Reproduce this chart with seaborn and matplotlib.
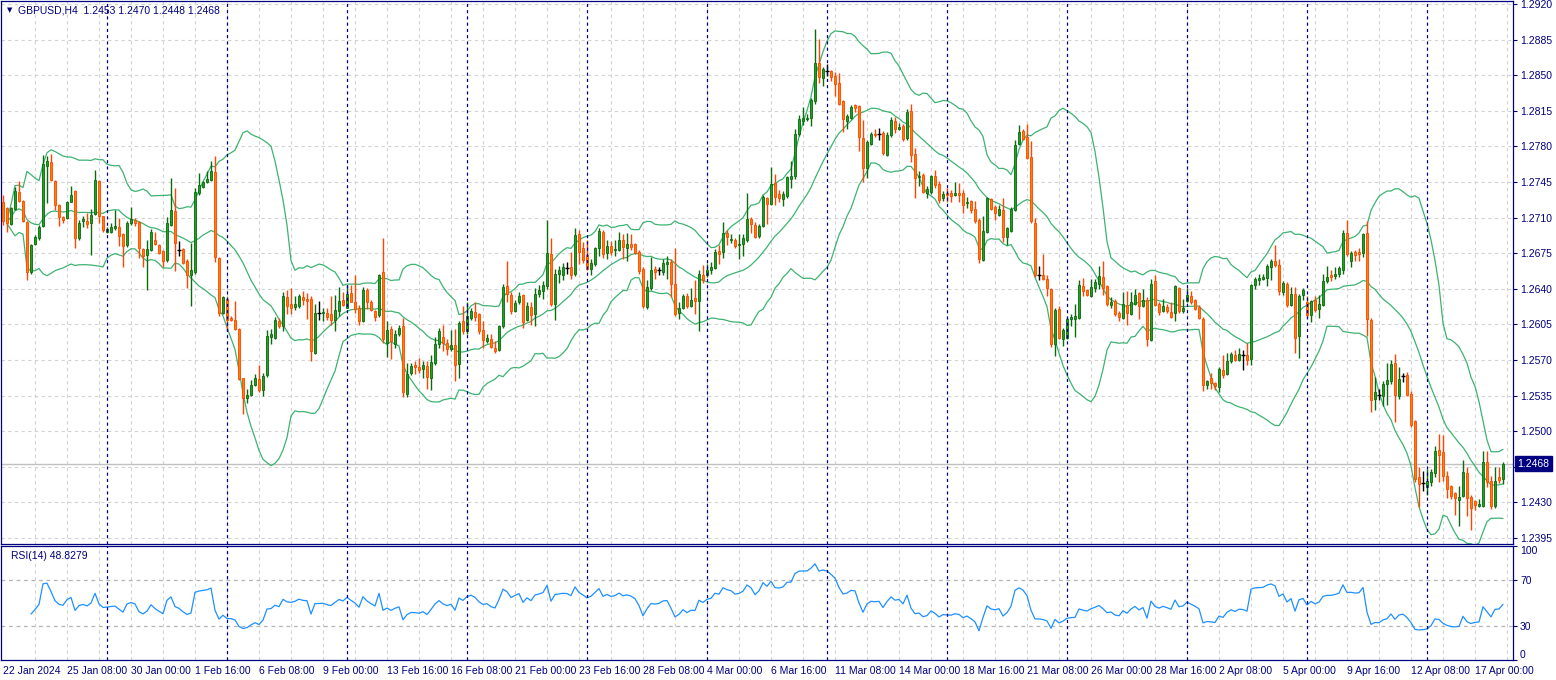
import numpy as np
import pandas as pd
import matplotlib
matplotlib.use('Agg')
import matplotlib.pyplot as plt
import seaborn as sns

# GBPUSD H4 bars (first bar 22 Jan 2024 16:00)
symbol = 'GBPUSD,H4'
rsi_label = 'RSI(14) 48.8279'

opens = [
    1.2725, 1.2719, 1.2704, 1.2718, 1.2735, 1.2726, 1.2706, 1.2656, 1.2684, 1.2690,
    1.2702, 1.2761, 1.2765, 1.2746, 1.2722, 1.2711, 1.2710, 1.2725, 1.2736, 1.2690,
    1.2707, 1.2707, 1.2705, 1.2714, 1.2746, 1.2712, 1.2696, 1.2696, 1.2700, 1.2701,
    1.2694, 1.2683, 1.2705, 1.2708, 1.2706, 1.2679, 1.2673, 1.2678, 1.2688, 1.2683,
    1.2677, 1.2668, 1.2703, 1.2716, 1.2678, 1.2679, 1.2667, 1.2654, 1.2656, 1.2734,
    1.2740, 1.2745, 1.2747, 1.2755, 1.2670, 1.2616, 1.2630, 1.2611, 1.2609, 1.2600,
    1.2552, 1.2533, 1.2536, 1.2545, 1.2551, 1.2540, 1.2555, 1.2593, 1.2592, 1.2608,
    1.2603, 1.2632, 1.2625, 1.2622, 1.2623, 1.2632, 1.2630, 1.2630, 1.2577, 1.2616,
    1.2616, 1.2616, 1.2615, 1.2609, 1.2618, 1.2629, 1.2621, 1.2636, 1.2627, 1.2621,
    1.2608, 1.2639, 1.2627, 1.2618, 1.2614, 1.2656, 1.2587, 1.2600, 1.2586, 1.2596,
    1.2603, 1.2537, 1.2557, 1.2565, 1.2563, 1.2561, 1.2564, 1.2552, 1.2567, 1.2586,
    1.2593, 1.2587, 1.2581, 1.2585, 1.2566, 1.2608, 1.2598, 1.2611, 1.2617, 1.2615,
    1.2599, 1.2589, 1.2591, 1.2582, 1.2580, 1.2603, 1.2643, 1.2634, 1.2618, 1.2627,
    1.2634, 1.2609, 1.2622, 1.2615, 1.2635, 1.2638, 1.2643, 1.2674, 1.2625, 1.2655,
    1.2654, 1.2660, 1.2661, 1.2655, 1.2694, 1.2680, 1.2673, 1.2659, 1.2664, 1.2680,
    1.2696, 1.2675, 1.2682, 1.2678, 1.2678, 1.2688, 1.2680, 1.2684, 1.2684, 1.2676,
    1.2659, 1.2622, 1.2641, 1.2659, 1.2658, 1.2656, 1.2664, 1.2666, 1.2645, 1.2616,
    1.2621, 1.2633, 1.2623, 1.2631, 1.2628, 1.2654, 1.2654, 1.2658, 1.2660, 1.2677,
    1.2676, 1.2695, 1.2688, 1.2688, 1.2683, 1.2684, 1.2688, 1.2709, 1.2703, 1.2692,
    1.2702, 1.2729, 1.2723, 1.2744, 1.2733, 1.2728, 1.2731, 1.2748, 1.2751, 1.2792,
    1.2805, 1.2807, 1.2808, 1.2825, 1.2862, 1.2847, 1.2854, 1.2854, 1.2849, 1.2842,
    1.2825, 1.2805, 1.2808, 1.2821, 1.2820, 1.2788, 1.2759, 1.2782, 1.2792, 1.2792,
    1.2793, 1.2772, 1.2791, 1.2805, 1.2797, 1.2800, 1.2788, 1.2815, 1.2773, 1.2750,
    1.2752, 1.2734, 1.2735, 1.2751, 1.2743, 1.2729, 1.2734, 1.2734, 1.2732, 1.2734,
    1.2734, 1.2724, 1.2726, 1.2718, 1.2708, 1.2668, 1.2696, 1.2728, 1.2720, 1.2713,
    1.2717, 1.2691, 1.2697, 1.2717, 1.2782, 1.2795, 1.2789, 1.2770, 1.2705, 1.2654,
    1.2654, 1.2650, 1.2640, 1.2586, 1.2620, 1.2591, 1.2592, 1.2610, 1.2610, 1.2611,
    1.2643, 1.2639, 1.2633, 1.2641, 1.2645, 1.2652, 1.2643, 1.2624, 1.2628, 1.2616,
    1.2611, 1.2624, 1.2615, 1.2625, 1.2636, 1.2623, 1.2629, 1.2590, 1.2648, 1.2625,
    1.2618, 1.2622, 1.2617, 1.2616, 1.2641, 1.2618, 1.2628, 1.2633, 1.2629, 1.2622,
    1.2610, 1.2545, 1.2552, 1.2547, 1.2543, 1.2560, 1.2556, 1.2569, 1.2575, 1.2570,
    1.2575, 1.2575, 1.2571, 1.2644, 1.2649, 1.2650, 1.2651, 1.2661, 1.2667, 1.2663,
    1.2637, 1.2645, 1.2624, 1.2635, 1.2594, 1.2634, 1.2627, 1.2614, 1.2629, 1.2620,
    1.2624, 1.2648, 1.2654, 1.2653, 1.2655, 1.2658, 1.2695, 1.2667, 1.2676, 1.2676,
    1.2675, 1.2695, 1.2609, 1.2532, 1.2536, 1.2535, 1.2546, 1.2549, 1.2567, 1.2535,
    1.2554, 1.2555, 1.2537, 1.2510, 1.2455, 1.2449, 1.2445, 1.2450, 1.2459, 1.2481,
    1.2479, 1.2456, 1.2446, 1.2439, 1.2432, 1.2436, 1.2459, 1.2435, 1.2431, 1.2426,
    1.2426, 1.2470, 1.2451, 1.2426, 1.2455, 1.2453,
]

highs = [
    1.2732, 1.2720, 1.2720, 1.2740, 1.2746, 1.2727, 1.2707, 1.2684, 1.2693, 1.2703,
    1.2772, 1.2771, 1.2773, 1.2747, 1.2723, 1.2712, 1.2726, 1.2741, 1.2737, 1.2708,
    1.2712, 1.2715, 1.2718, 1.2757, 1.2747, 1.2712, 1.2701, 1.2705, 1.2717, 1.2710,
    1.2695, 1.2707, 1.2720, 1.2710, 1.2707, 1.2680, 1.2688, 1.2699, 1.2696, 1.2684,
    1.2678, 1.2711, 1.2749, 1.2739, 1.2687, 1.2680, 1.2669, 1.2685, 1.2739, 1.2754,
    1.2746, 1.2756, 1.2766, 1.2771, 1.2671, 1.2633, 1.2632, 1.2613, 1.2628, 1.2601,
    1.2552, 1.2541, 1.2550, 1.2556, 1.2565, 1.2557, 1.2599, 1.2600, 1.2612, 1.2611,
    1.2637, 1.2639, 1.2641, 1.2633, 1.2635, 1.2638, 1.2636, 1.2633, 1.2625, 1.2628,
    1.2621, 1.2621, 1.2633, 1.2634, 1.2642, 1.2637, 1.2644, 1.2644, 1.2654, 1.2624,
    1.2642, 1.2641, 1.2629, 1.2619, 1.2655, 1.2690, 1.2608, 1.2603, 1.2599, 1.2604,
    1.2611, 1.2567, 1.2567, 1.2569, 1.2572, 1.2569, 1.2569, 1.2575, 1.2593, 1.2601,
    1.2604, 1.2591, 1.2599, 1.2600, 1.2608, 1.2623, 1.2627, 1.2621, 1.2627, 1.2616,
    1.2608, 1.2596, 1.2596, 1.2589, 1.2604, 1.2645, 1.2667, 1.2637, 1.2629, 1.2637,
    1.2635, 1.2627, 1.2627, 1.2641, 1.2644, 1.2648, 1.2708, 1.2690, 1.2659, 1.2662,
    1.2665, 1.2666, 1.2676, 1.2700, 1.2698, 1.2686, 1.2688, 1.2669, 1.2681, 1.2700,
    1.2698, 1.2688, 1.2687, 1.2688, 1.2696, 1.2694, 1.2695, 1.2694, 1.2685, 1.2678,
    1.2661, 1.2649, 1.2671, 1.2662, 1.2661, 1.2669, 1.2672, 1.2669, 1.2680, 1.2627,
    1.2635, 1.2636, 1.2641, 1.2649, 1.2658, 1.2663, 1.2664, 1.2666, 1.2679, 1.2683,
    1.2706, 1.2698, 1.2694, 1.2690, 1.2694, 1.2694, 1.2734, 1.2711, 1.2706, 1.2704,
    1.2732, 1.2730, 1.2760, 1.2753, 1.2737, 1.2736, 1.2751, 1.2766, 1.2797, 1.2811,
    1.2819, 1.2812, 1.2828, 1.2895, 1.2886, 1.2858, 1.2861, 1.2855, 1.2853, 1.2852,
    1.2826, 1.2812, 1.2821, 1.2822, 1.2821, 1.2806, 1.2786, 1.2794, 1.2797, 1.2798,
    1.2795, 1.2794, 1.2809, 1.2809, 1.2803, 1.2802, 1.2817, 1.2822, 1.2778, 1.2756,
    1.2754, 1.2741, 1.2752, 1.2757, 1.2746, 1.2736, 1.2739, 1.2737, 1.2745, 1.2744,
    1.2737, 1.2730, 1.2727, 1.2726, 1.2710, 1.2712, 1.2730, 1.2729, 1.2722, 1.2722,
    1.2729, 1.2701, 1.2720, 1.2786, 1.2801, 1.2797, 1.2802, 1.2785, 1.2710, 1.2662,
    1.2674, 1.2654, 1.2641, 1.2621, 1.2623, 1.2601, 1.2612, 1.2615, 1.2625, 1.2649,
    1.2651, 1.2640, 1.2650, 1.2650, 1.2662, 1.2667, 1.2644, 1.2632, 1.2630, 1.2618,
    1.2637, 1.2638, 1.2637, 1.2640, 1.2637, 1.2640, 1.2632, 1.2650, 1.2654, 1.2627,
    1.2630, 1.2625, 1.2627, 1.2644, 1.2642, 1.2630, 1.2641, 1.2638, 1.2630, 1.2624,
    1.2612, 1.2550, 1.2557, 1.2548, 1.2563, 1.2575, 1.2577, 1.2578, 1.2580, 1.2582,
    1.2580, 1.2587, 1.2645, 1.2652, 1.2655, 1.2655, 1.2664, 1.2669, 1.2683, 1.2669,
    1.2648, 1.2647, 1.2642, 1.2642, 1.2635, 1.2641, 1.2633, 1.2629, 1.2633, 1.2634,
    1.2655, 1.2662, 1.2658, 1.2661, 1.2662, 1.2698, 1.2708, 1.2677, 1.2678, 1.2680,
    1.2695, 1.2707, 1.2611, 1.2553, 1.2541, 1.2549, 1.2567, 1.2570, 1.2576, 1.2563,
    1.2557, 1.2558, 1.2539, 1.2511, 1.2465, 1.2461, 1.2463, 1.2463, 1.2485, 1.2497,
    1.2496, 1.2461, 1.2447, 1.2440, 1.2446, 1.2472, 1.2465, 1.2437, 1.2432, 1.2433,
    1.2480, 1.2480, 1.2456, 1.2465, 1.2465, 1.2470,
]

lows = [
    1.2703, 1.2696, 1.2703, 1.2717, 1.2725, 1.2706, 1.2649, 1.2655, 1.2683, 1.2688,
    1.2701, 1.2724, 1.2746, 1.2717, 1.2702, 1.2705, 1.2709, 1.2725, 1.2680, 1.2688,
    1.2701, 1.2700, 1.2673, 1.2713, 1.2705, 1.2696, 1.2695, 1.2695, 1.2698, 1.2682,
    1.2661, 1.2681, 1.2703, 1.2702, 1.2670, 1.2661, 1.2639, 1.2677, 1.2683, 1.2674,
    1.2661, 1.2666, 1.2702, 1.2657, 1.2672, 1.2664, 1.2641, 1.2623, 1.2655, 1.2732,
    1.2739, 1.2744, 1.2746, 1.2666, 1.2613, 1.2615, 1.2598, 1.2608, 1.2599, 1.2550,
    1.2517, 1.2528, 1.2535, 1.2544, 1.2538, 1.2535, 1.2553, 1.2586, 1.2591, 1.2601,
    1.2598, 1.2615, 1.2615, 1.2619, 1.2621, 1.2624, 1.2610, 1.2569, 1.2576, 1.2609,
    1.2608, 1.2609, 1.2604, 1.2598, 1.2613, 1.2623, 1.2621, 1.2627, 1.2616, 1.2604,
    1.2607, 1.2620, 1.2618, 1.2608, 1.2612, 1.2587, 1.2573, 1.2571, 1.2582, 1.2594,
    1.2534, 1.2534, 1.2555, 1.2556, 1.2557, 1.2552, 1.2541, 1.2540, 1.2565, 1.2582,
    1.2579, 1.2575, 1.2579, 1.2549, 1.2552, 1.2596, 1.2596, 1.2609, 1.2608, 1.2596,
    1.2582, 1.2587, 1.2582, 1.2577, 1.2579, 1.2601, 1.2627, 1.2615, 1.2617, 1.2625,
    1.2601, 1.2608, 1.2604, 1.2603, 1.2632, 1.2630, 1.2640, 1.2623, 1.2609, 1.2646,
    1.2649, 1.2655, 1.2650, 1.2653, 1.2664, 1.2665, 1.2658, 1.2654, 1.2662, 1.2672,
    1.2670, 1.2669, 1.2673, 1.2672, 1.2677, 1.2669, 1.2667, 1.2678, 1.2674, 1.2655,
    1.2621, 1.2620, 1.2639, 1.2650, 1.2654, 1.2654, 1.2650, 1.2632, 1.2613, 1.2610,
    1.2620, 1.2621, 1.2622, 1.2615, 1.2598, 1.2646, 1.2652, 1.2655, 1.2659, 1.2664,
    1.2670, 1.2683, 1.2685, 1.2680, 1.2669, 1.2672, 1.2686, 1.2695, 1.2690, 1.2690,
    1.2701, 1.2704, 1.2722, 1.2722, 1.2725, 1.2721, 1.2729, 1.2739, 1.2748, 1.2790,
    1.2801, 1.2805, 1.2800, 1.2822, 1.2842, 1.2839, 1.2849, 1.2844, 1.2830, 1.2821,
    1.2794, 1.2797, 1.2807, 1.2814, 1.2775, 1.2745, 1.2749, 1.2781, 1.2789, 1.2786,
    1.2772, 1.2771, 1.2789, 1.2793, 1.2796, 1.2785, 1.2786, 1.2765, 1.2729, 1.2741,
    1.2734, 1.2729, 1.2733, 1.2739, 1.2724, 1.2726, 1.2725, 1.2725, 1.2731, 1.2725,
    1.2715, 1.2719, 1.2715, 1.2705, 1.2665, 1.2667, 1.2695, 1.2717, 1.2708, 1.2712,
    1.2686, 1.2683, 1.2696, 1.2716, 1.2781, 1.2786, 1.2768, 1.2705, 1.2652, 1.2649,
    1.2649, 1.2633, 1.2583, 1.2574, 1.2591, 1.2584, 1.2591, 1.2603, 1.2593, 1.2610,
    1.2633, 1.2633, 1.2632, 1.2637, 1.2640, 1.2634, 1.2623, 1.2621, 1.2613, 1.2608,
    1.2610, 1.2604, 1.2614, 1.2624, 1.2610, 1.2622, 1.2584, 1.2589, 1.2623, 1.2614,
    1.2617, 1.2616, 1.2611, 1.2608, 1.2616, 1.2616, 1.2627, 1.2625, 1.2619, 1.2610,
    1.2539, 1.2541, 1.2541, 1.2540, 1.2538, 1.2552, 1.2555, 1.2567, 1.2569, 1.2569,
    1.2560, 1.2565, 1.2565, 1.2640, 1.2644, 1.2649, 1.2643, 1.2649, 1.2661, 1.2634,
    1.2634, 1.2622, 1.2623, 1.2577, 1.2572, 1.2629, 1.2612, 1.2607, 1.2617, 1.2611,
    1.2623, 1.2646, 1.2648, 1.2650, 1.2652, 1.2655, 1.2672, 1.2661, 1.2667, 1.2667,
    1.2671, 1.2594, 1.2519, 1.2521, 1.2531, 1.2525, 1.2526, 1.2546, 1.2509, 1.2532,
    1.2548, 1.2535, 1.2504, 1.2450, 1.2425, 1.2441, 1.2437, 1.2446, 1.2455, 1.2450,
    1.2451, 1.2434, 1.2433, 1.2418, 1.2407, 1.2435, 1.2417, 1.2403, 1.2422, 1.2425,
    1.2425, 1.2445, 1.2423, 1.2424, 1.2449, 1.2448,
]

closes = [
    1.2707, 1.2705, 1.2719, 1.2736, 1.2726, 1.2707, 1.2656, 1.2683, 1.2691, 1.2701,
    1.2763, 1.2766, 1.2747, 1.2722, 1.2711, 1.2708, 1.2725, 1.2732, 1.2690, 1.2705,
    1.2709, 1.2704, 1.2713, 1.2747, 1.2712, 1.2698, 1.2699, 1.2701, 1.2702, 1.2692,
    1.2682, 1.2705, 1.2709, 1.2705, 1.2680, 1.2672, 1.2679, 1.2696, 1.2684, 1.2675,
    1.2667, 1.2705, 1.2717, 1.2685, 1.2678, 1.2665, 1.2654, 1.2658, 1.2735, 1.2742,
    1.2745, 1.2748, 1.2756, 1.2671, 1.2616, 1.2632, 1.2609, 1.2609, 1.2600, 1.2551,
    1.2533, 1.2536, 1.2545, 1.2552, 1.2540, 1.2554, 1.2594, 1.2596, 1.2609, 1.2603,
    1.2633, 1.2623, 1.2621, 1.2625, 1.2633, 1.2629, 1.2628, 1.2579, 1.2616, 1.2616,
    1.2617, 1.2612, 1.2609, 1.2619, 1.2628, 1.2624, 1.2635, 1.2627, 1.2620, 1.2608,
    1.2639, 1.2627, 1.2619, 1.2612, 1.2654, 1.2591, 1.2599, 1.2589, 1.2596, 1.2601,
    1.2538, 1.2556, 1.2564, 1.2563, 1.2560, 1.2565, 1.2553, 1.2568, 1.2586, 1.2598,
    1.2587, 1.2581, 1.2585, 1.2565, 1.2606, 1.2598, 1.2613, 1.2618, 1.2612, 1.2598,
    1.2590, 1.2592, 1.2583, 1.2579, 1.2603, 1.2642, 1.2635, 1.2618, 1.2626, 1.2633,
    1.2607, 1.2623, 1.2614, 1.2635, 1.2639, 1.2644, 1.2675, 1.2625, 1.2655, 1.2658,
    1.2661, 1.2660, 1.2654, 1.2693, 1.2676, 1.2668, 1.2659, 1.2665, 1.2680, 1.2697,
    1.2674, 1.2682, 1.2676, 1.2679, 1.2688, 1.2681, 1.2684, 1.2681, 1.2675, 1.2657,
    1.2623, 1.2642, 1.2658, 1.2656, 1.2658, 1.2665, 1.2666, 1.2645, 1.2615, 1.2621,
    1.2633, 1.2623, 1.2629, 1.2628, 1.2655, 1.2649, 1.2658, 1.2661, 1.2676, 1.2674,
    1.2695, 1.2691, 1.2689, 1.2682, 1.2684, 1.2690, 1.2709, 1.2704, 1.2691, 1.2702,
    1.2730, 1.2723, 1.2743, 1.2730, 1.2729, 1.2733, 1.2750, 1.2751, 1.2792, 1.2807,
    1.2808, 1.2808, 1.2826, 1.2862, 1.2848, 1.2856, 1.2854, 1.2848, 1.2841, 1.2822,
    1.2807, 1.2810, 1.2819, 1.2818, 1.2789, 1.2759, 1.2784, 1.2792, 1.2791, 1.2792,
    1.2774, 1.2791, 1.2806, 1.2797, 1.2799, 1.2787, 1.2814, 1.2772, 1.2749, 1.2751,
    1.2735, 1.2738, 1.2751, 1.2742, 1.2727, 1.2733, 1.2732, 1.2731, 1.2734, 1.2732,
    1.2722, 1.2725, 1.2717, 1.2707, 1.2669, 1.2697, 1.2729, 1.2718, 1.2715, 1.2718,
    1.2691, 1.2700, 1.2718, 1.2781, 1.2794, 1.2787, 1.2769, 1.2707, 1.2654, 1.2654,
    1.2650, 1.2641, 1.2586, 1.2619, 1.2592, 1.2599, 1.2610, 1.2612, 1.2613, 1.2644,
    1.2638, 1.2634, 1.2642, 1.2647, 1.2653, 1.2641, 1.2625, 1.2627, 1.2615, 1.2612,
    1.2625, 1.2616, 1.2627, 1.2634, 1.2623, 1.2629, 1.2591, 1.2645, 1.2624, 1.2617,
    1.2623, 1.2618, 1.2612, 1.2643, 1.2618, 1.2621, 1.2634, 1.2627, 1.2620, 1.2611,
    1.2545, 1.2549, 1.2547, 1.2544, 1.2561, 1.2555, 1.2569, 1.2576, 1.2570, 1.2576,
    1.2575, 1.2570, 1.2644, 1.2650, 1.2651, 1.2652, 1.2662, 1.2667, 1.2663, 1.2638,
    1.2646, 1.2624, 1.2635, 1.2592, 1.2633, 1.2639, 1.2614, 1.2628, 1.2619, 1.2625,
    1.2648, 1.2652, 1.2652, 1.2655, 1.2660, 1.2695, 1.2674, 1.2675, 1.2673, 1.2674,
    1.2694, 1.2610, 1.2531, 1.2538, 1.2536, 1.2546, 1.2550, 1.2566, 1.2536, 1.2551,
    1.2554, 1.2536, 1.2506, 1.2453, 1.2448, 1.2449, 1.2451, 1.2460, 1.2480, 1.2477,
    1.2456, 1.2443, 1.2436, 1.2434, 1.2435, 1.2460, 1.2434, 1.2424, 1.2427, 1.2428,
    1.2470, 1.2450, 1.2426, 1.2451, 1.2452, 1.2468,
]

price_ticks = [1.2920, 1.2885, 1.2850, 1.2815, 1.2780, 1.2745, 1.2710, 1.2675,
               1.2640, 1.2605, 1.2570, 1.2535, 1.2500, 1.2465, 1.2430, 1.2395]
rsi_levels = [30, 70]
rsi_ticks = [0, 30, 70, 100]

NAVY = '#000080'
GRID = '#d2d2d2'
FS = 7.5

# H4 trading bars (Mon-Fri)
times = pd.date_range('2024-01-22 16:00', periods=800, freq='4h')
times = times[times.dayofweek < 5][:len(closes)]
df = pd.DataFrame({'time': times, 'open': opens, 'high': highs,
                   'low': lows, 'close': closes})
df['bar'] = np.arange(len(df))

# Bollinger bands (20, 2) and RSI(14)
mid = df['close'].rolling(20, min_periods=2).mean()
sd = df['close'].rolling(20, min_periods=2).std(ddof=0)
df['bb_mid'] = mid
df['bb_up'] = mid + 2 * sd
df['bb_dn'] = mid - 2 * sd

delta = df['close'].diff()
gain = delta.clip(lower=0).ewm(alpha=1 / 14, adjust=True, min_periods=7).mean()
loss = (-delta.clip(upper=0)).ewm(alpha=1 / 14, adjust=True, min_periods=7).mean()
df['rsi'] = 100 - 100 / (1 + gain / loss)

# time axis bits
label_bars = df['bar'][::16].tolist()
label_text = []
for k, t in zip(label_bars, df['time'][::16]):
    if k == 0:
        label_text.append(t.strftime('%d %b %Y').lstrip('0'))
    else:
        label_text.append(f"{t.day} {t.strftime('%b %H:%M')}")
week_bars = df.loc[(df['time'].dt.dayofweek == 0) & (df['time'].dt.hour == 0), 'bar'].tolist()
grid_bars = list(range(8, len(df) + 3, 8))

sns.set_style('white')
plt.rcParams['font.family'] = ['Liberation Sans', 'DejaVu Sans']

W, H = 1556, 680
fig = plt.figure(figsize=(W / 100, H / 100), dpi=100)
ax = fig.add_axes([1 / W, 136 / H, 1512 / W, 543 / H])
ax2 = fig.add_axes([1 / W, 20 / H, 1512 / W, 114 / H])

for a in (ax, ax2):
    for g in grid_bars:
        a.axvline(g, color=GRID, lw=0.8, ls=(0, (3, 3)), zorder=0)
    for w in week_bars:
        a.axvline(w, color=NAVY, lw=0.9, ls=(0, (2.5, 2.5)), zorder=4)
    for s in a.spines.values():
        s.set_color(NAVY)
        s.set_linewidth(0.9)
    a.set_xlim(-0.5, len(df) + 1.5)

for p in price_ticks:
    ax.axhline(p, color=GRID, lw=0.8, ls=(0, (3, 3)), zorder=0)
ax.axhline(closes[-1], color='#c0c0c0', lw=1, zorder=0.5)

# candles
up = df[df['close'] > df['open']]
dn = df[df['close'] < df['open']]
dj = df[df['close'] == df['open']]
for d, face, edge in [(up, '#22a022', '#0b6a0b'), (dn, '#ff8000', '#ff4500')]:
    ax.vlines(d['bar'], d['low'], d['high'], color=edge, lw=1, zorder=3)
    ax.bar(d['bar'], (d['close'] - d['open']).abs(), bottom=d[['open', 'close']].min(axis=1),
           width=0.7, color=face, edgecolor=edge, linewidth=0.6, zorder=3)
ax.vlines(dj['bar'], dj['low'], dj['high'], color='black', lw=1, zorder=3)
ax.hlines(dj['close'], dj['bar'] - 0.45, dj['bar'] + 0.45, color='black', lw=1, zorder=3)

for col in ['bb_up', 'bb_mid', 'bb_dn']:
    sns.lineplot(data=df, x='bar', y=col, ax=ax, color='#3cb371', lw=0.9,
                 estimator=None, legend=False, zorder=2)

ax.set_ylim(1.2389, 1.2923)
ax.set_xticks([])
ax.set_xlabel('')
ax.set_ylabel('')
ax.yaxis.tick_right()
ax.set_yticks(price_ticks)
ax.set_yticklabels(['' if abs(p - 1.2465) < 1e-6 else f'{p:.4f}' for p in price_ticks])
ax.tick_params(axis='y', colors=NAVY, labelsize=FS, length=3, width=0.8, pad=2)

ax.annotate(f'{closes[-1]:.4f}', xy=(1, closes[-1]), xycoords=('axes fraction', 'data'),
            xytext=(3, 0), textcoords='offset points', ha='left', va='center',
            color='white', fontsize=FS, annotation_clip=False,
            bbox=dict(boxstyle='square,pad=0.25', fc=NAVY, ec=NAVY))
ax.text(0.004, 0.983, '\u25bc', transform=ax.transAxes, color=NAVY, fontsize=5,
        va='center', family='DejaVu Sans')
ax.text(0.0115, 0.983,
        f'{symbol}  {opens[-1]:.4f} {highs[-1]:.4f} {lows[-1]:.4f} {closes[-1]:.4f}',
        transform=ax.transAxes, color=NAVY, fontsize=FS, va='center')

# RSI pane
for lv in rsi_levels:
    ax2.axhline(lv, color='#b4b4b4', lw=0.9, ls=(0, (3, 3)), zorder=0)
sns.lineplot(data=df, x='bar', y='rsi', ax=ax2, color='#1e90ff', lw=0.9,
             estimator=None, legend=False, zorder=3)
ax2.set_ylim(0, 100)
ax2.set_xlabel('')
ax2.set_ylabel('')
ax2.yaxis.tick_right()
ax2.set_yticks(rsi_ticks)
ax2.set_yticklabels([str(v) for v in rsi_ticks])
yl = ax2.get_yticklabels()
yl[0].set_va('bottom')
yl[-1].set_va('top')
ax2.tick_params(axis='y', colors=NAVY, labelsize=FS, length=3, width=0.8, pad=2)
ax2.set_xticks(label_bars)
ax2.set_xticklabels(label_text, ha='left')
ax2.tick_params(axis='x', colors=NAVY, labelsize=FS, length=3, width=0.8, pad=1)
ax2.text(0.0065, 0.915, rsi_label, transform=ax2.transAxes, color=NAVY, fontsize=FS, va='center')

fig.savefig('out.png', dpi=100)
